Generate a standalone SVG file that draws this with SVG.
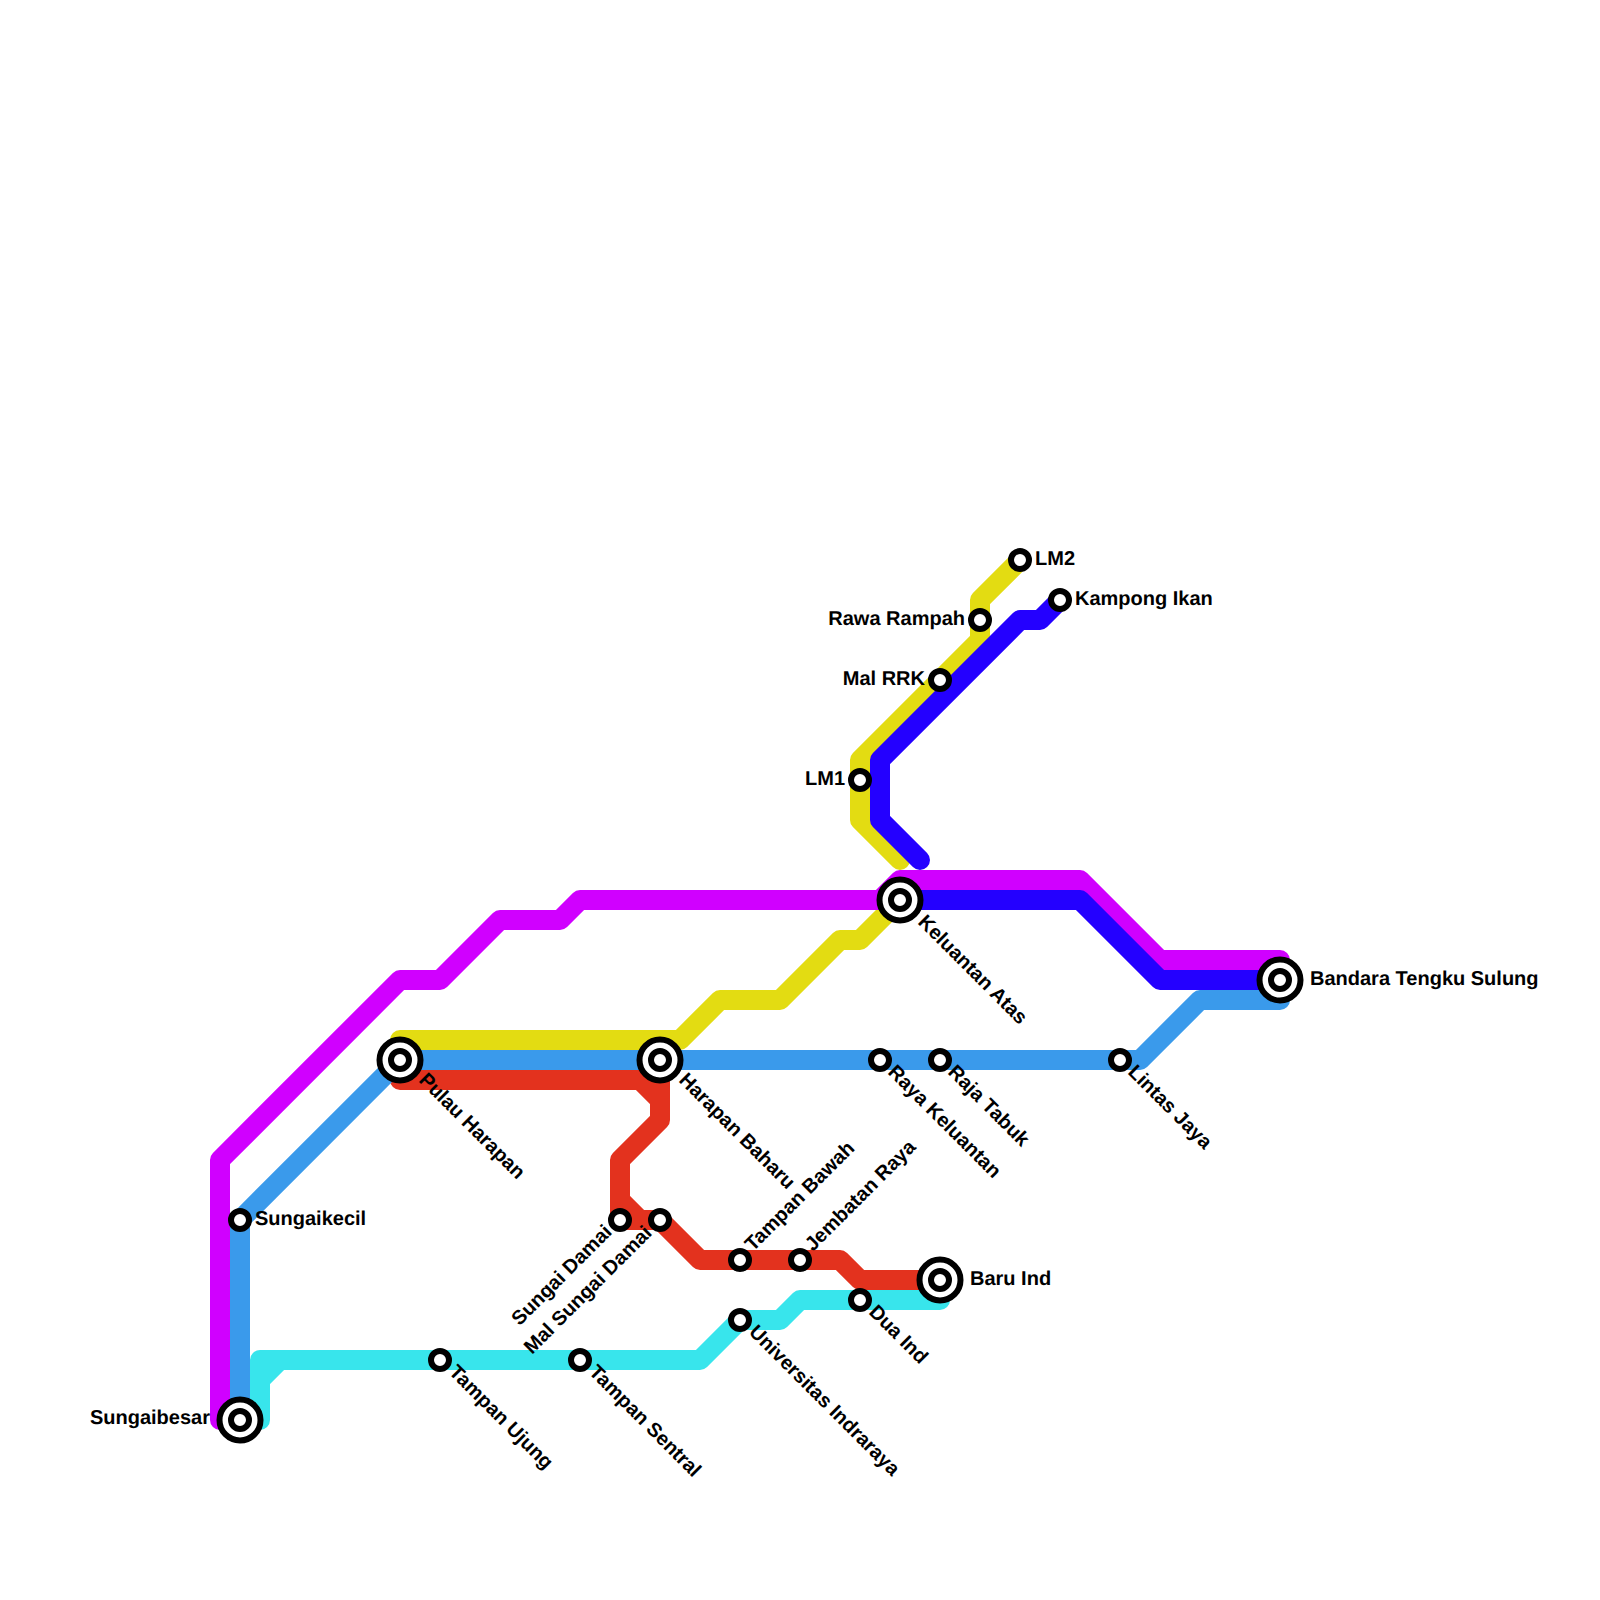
<svg xmlns="http://www.w3.org/2000/svg" width="1600" height="1600" viewBox="0 0 1600 1600">
<style>
.l{fill:none;stroke-width:20;stroke-linecap:round;stroke-linejoin:round}
.s{fill:#fff;stroke:#000;stroke-width:6}
text{font-family:"Liberation Sans",Arial,sans-serif;font-weight:700;font-size:20px;fill:#000;text-rendering:geometricPrecision}
.e{text-anchor:end}
</style>
<rect width="1600" height="1600" fill="#fff"/>
<g id="connectors">
<path class="l" stroke="#38e5ec" d="M260 1420V1380L280 1360H700L740 1320H780L800 1300H940M260 1380V1360H280"/>
<path class="l" stroke="#e3dc12" d="M400 1040H680L720 1000H780L840 940H860L900 900M900 860L860 820V760L980 640V600L1020 560"/>
<path class="l" stroke="#e3321e" d="M400 1080H640L660 1100V1120L620 1160V1200L640 1220H660L700 1260H840L860 1280H940M660 1060V1100M620 1200V1220H640"/>
<path class="l" stroke="#d000ff" d="M220 1420V1160L400 980H440L500 920H560L580 900H880L900 880H1080L1160 960H1280V980"/>
<path class="l" stroke="#3a9aeb" d="M240 1420V1220L400 1060H1140L1200 1000H1280V980"/>
<path class="l" stroke="#2400ff" d="M1060 600L1040 620H1020L880 760V820L920 860M900 900H1080L1160 980H1280"/>
</g>
<g id="st-sungaibesar"><circle class="s" cx="240" cy="1420" r="20.5"/><circle class="s" cx="240" cy="1420" r="9"/><text class="e" x="210" y="1424">Sungaibesar</text></g>
<g id="st-sungaikecil"><circle class="s" cx="240" cy="1220" r="9"/><text x="255" y="1225">Sungaikecil</text></g>
<g id="st-pulau-harapan"><circle class="s" cx="400" cy="1060" r="20.5"/><circle class="s" cx="400" cy="1060" r="9"/><text transform="translate(418 1081) rotate(45)">Pulau Harapan</text></g>
<g id="st-harapan-baharu"><circle class="s" cx="660" cy="1060" r="20.5"/><circle class="s" cx="660" cy="1060" r="9"/><text transform="translate(678 1081) rotate(45)">Harapan Baharu</text></g>
<g id="st-keluantan-atas"><circle class="s" cx="900" cy="900" r="20.5"/><circle class="s" cx="900" cy="900" r="9"/><text transform="translate(917 923) rotate(45)">Keluantan Atas</text></g>
<g id="st-bandara"><circle class="s" cx="1280" cy="980" r="20.5"/><circle class="s" cx="1280" cy="980" r="9"/><text x="1310" y="985">Bandara Tengku Sulung</text></g>
<g id="st-baru-ind"><circle class="s" cx="940" cy="1280" r="20.5"/><circle class="s" cx="940" cy="1280" r="9"/><text x="970" y="1285">Baru Ind</text></g>
<g id="st-lm2"><circle class="s" cx="1020" cy="560" r="9"/><text x="1035" y="565">LM2</text></g>
<g id="st-kampong-ikan"><circle class="s" cx="1060" cy="600" r="9"/><text x="1075" y="605">Kampong Ikan</text></g>
<g id="st-rawa-rampah"><circle class="s" cx="980" cy="620" r="9"/><text class="e" x="965" y="625">Rawa Rampah</text></g>
<g id="st-mal-rrk"><circle class="s" cx="940" cy="680" r="9"/><text class="e" x="925" y="685">Mal RRK</text></g>
<g id="st-lm1"><circle class="s" cx="860" cy="780" r="9"/><text class="e" x="845" y="785">LM1</text></g>
<g id="st-raya-keluantan"><circle class="s" cx="880" cy="1060" r="9"/><text transform="translate(887 1073) rotate(45)">Raya Keluantan</text></g>
<g id="st-raja-tabuk"><circle class="s" cx="940" cy="1060" r="9"/><text transform="translate(947 1073) rotate(45)">Raja Tabuk</text></g>
<g id="st-lintas-jaya"><circle class="s" cx="1120" cy="1060" r="9"/><text transform="translate(1127 1073) rotate(45)">Lintas Jaya</text></g>
<g id="st-tampan-bawah"><circle class="s" cx="740" cy="1260" r="9"/><text transform="translate(753 1252) rotate(-45)">Tampan Bawah</text></g>
<g id="st-jembatan-raya"><circle class="s" cx="800" cy="1260" r="9"/><text transform="translate(813 1252) rotate(-45)">Jembatan Raya</text></g>
<g id="st-sungai-damai"><circle class="s" cx="620" cy="1220" r="9"/><text class="e" transform="translate(613 1233) rotate(-45)">Sungai Damai</text></g>
<g id="st-mal-sungai-damai"><circle class="s" cx="660" cy="1220" r="9"/><text class="e" transform="translate(653 1234) rotate(-45)">Mal Sungai Damai</text></g>
<g id="st-dua-ind"><circle class="s" cx="860" cy="1300" r="9"/><text transform="translate(868 1313) rotate(45)">Dua Ind</text></g>
<g id="st-universitas"><circle class="s" cx="740" cy="1320" r="9"/><text transform="translate(748 1333) rotate(45)">Universitas Indraraya</text></g>
<g id="st-tampan-ujung"><circle class="s" cx="440" cy="1360" r="9"/><text transform="translate(448 1373) rotate(45)">Tampan Ujung</text></g>
<g id="st-tampan-sentral"><circle class="s" cx="580" cy="1360" r="9"/><text transform="translate(588 1373) rotate(45)">Tampan Sentral</text></g>
</svg>
